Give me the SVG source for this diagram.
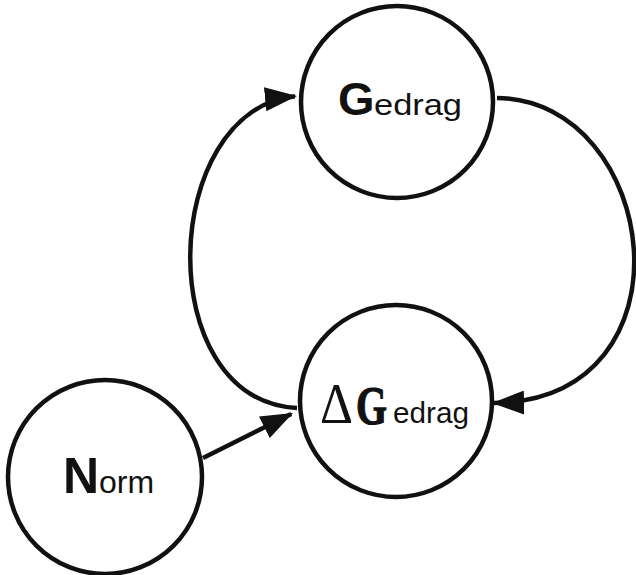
<svg xmlns="http://www.w3.org/2000/svg" width="636" height="575" viewBox="0 0 636 575">
  <defs>
    <marker id="arrow" viewBox="0 0 32 24" refX="30" refY="12" markerWidth="32" markerHeight="24" markerUnits="userSpaceOnUse" orient="auto">
      <path d="M0,0 L32,12 L0,24 Z" fill="#111"/>
    </marker>
    <style>
      .node { fill: #fff; stroke: #111; stroke-width: 4.5; }
      .edge { fill: none; stroke: #111; stroke-width: 4.5; marker-end: url(#arrow); }
      .sans { font-family: "Liberation Sans", Arial, sans-serif; fill: #111; }
      .serif { font-family: "Liberation Serif", "Times New Roman", serif; fill: #111; }
      .big { font-weight: bold; }
      .heavy { stroke: #111; stroke-width: 1.2; }
    </style>
  </defs>
  <rect width="636" height="575" fill="#fff"/>

  <g id="connectors">
    <!-- Norm to change in behaviour -->
    <path class="edge" d="M203,458 L291.2,413.9"/>
    <!-- change in behaviour back to behaviour (left loop) -->
    <path class="edge" d="M297,408 C150,400 160,110 295,96.2"/>
    <!-- behaviour to change in behaviour (right loop) -->
    <path class="edge" d="M497,98 C660,100 700,400 494,403"/>
  </g>

  <g id="gedrag">
    <circle class="node" cx="397" cy="102" r="96"/>
    <text class="sans big" x="338" y="115" font-size="47">G</text>
    <text class="sans" x="374" y="115" font-size="30" textLength="88" lengthAdjust="spacingAndGlyphs">edrag</text>
  </g>

  <g id="delta-gedrag">
    <circle class="node" cx="396" cy="401" r="96"/>
    <text class="serif" x="320" y="423" font-size="56" textLength="33" lengthAdjust="spacingAndGlyphs">Δ</text>
    <text class="serif big heavy" x="356" y="424" font-size="54" textLength="31" lengthAdjust="spacingAndGlyphs">G</text>
    <text class="sans" x="393" y="423" font-size="30" textLength="76" lengthAdjust="spacingAndGlyphs">edrag</text>
  </g>

  <g id="norm">
    <circle class="node" cx="105" cy="477" r="97"/>
    <text class="sans big" x="63" y="493" font-size="50">N</text>
    <text class="sans" x="99" y="493" font-size="32">orm</text>
  </g>
</svg>
